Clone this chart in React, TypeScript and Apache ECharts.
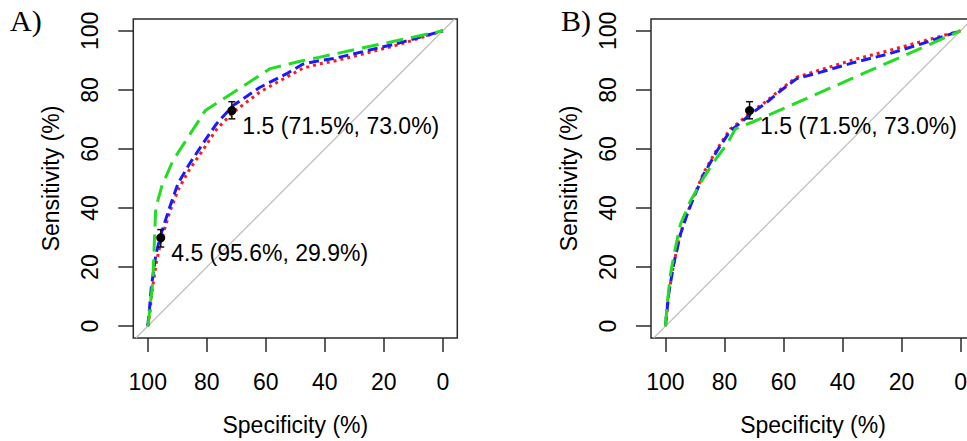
import { useEffect, useRef } from "react";
import * as echarts from "echarts";

const TICKS = [0, 20, 40, 60, 80, 100];
const PANEL_LABELS = ["A)", "B)"];
const X_NAME = "Specificity (%)";
const Y_NAME = "Sensitivity (%)";

const DIAG_SPEC = [104, -4];
const DIAG_SENS = [-4, 104];

// Panel A
const A_RED_SPEC = [100, 99.2, 98.8, 97.2, 95.5, 92.6, 89.8, 85.9, 81.4, 76.8, 71.2, 62, 53, 47.5, 41.8, 37, 26, 14.7, 0];
const A_RED_SENS = [0, 5, 10, 21, 29, 38.5, 46, 53, 59.5, 66.5, 72.3, 79.3, 84.3, 87.3, 88.8, 89.7, 92.4, 95.4, 100];
const A_BLUE_SPEC = [100, 99.4, 98.8, 97.2, 95.5, 92.6, 89.8, 85.9, 81.4, 76.8, 71.2, 62.1, 53.1, 47.5, 41.8, 37, 26, 14.7, 0];
const A_BLUE_SENS = [0, 6, 13.2, 24.5, 31.2, 40.2, 48.2, 54.9, 61.7, 68.4, 74.6, 80.8, 85.4, 88.7, 89.9, 90.6, 93.2, 95.9, 100];
const A_GREEN_SPEC = [100, 99.7, 98.3, 97.3, 95.2, 91.5, 80.5, 58.5, 48, 42, 30, 15, 0];
const A_GREEN_SENS = [0, 2, 15, 40, 47.5, 56, 73, 87.2, 89.8, 91, 93.6, 96.8, 100];
const A_POINT_SPEC = [71.5, 95.6];
const A_POINT_SENS = [73.0, 29.9];
const A_POINT_LO = [70.2, 26.8];
const A_POINT_HI = [76.0, 32.7];
const A_POINT_TEXT = ["1.5 (71.5%, 73.0%)", "4.5 (95.6%, 29.9%)"];

// Panel B
const B_RED_SPEC = [100, 99.5, 98.9, 97.2, 94.9, 92.6, 90.4, 87, 82.5, 78, 75, 71.2, 66, 61, 55.5, 47.4, 36, 24.7, 13.5, 0];
const B_RED_SENS = [0, 5, 11, 21.1, 31.5, 38.3, 44, 52, 60, 66.8, 69, 72.3, 76, 80.2, 84.3, 86.8, 90.3, 93.2, 96.3, 100];
const B_BLUE_SPEC = [100, 99.5, 98.9, 97.2, 94.9, 92.6, 90.4, 87, 82.5, 78, 75, 71.2, 66, 61, 55.5, 47.4, 36, 24.7, 13.5, 0];
const B_BLUE_SENS = [0, 5, 11, 21.1, 31.2, 38, 43.6, 51.5, 59.4, 66.2, 68.5, 71.8, 75.5, 79.7, 83.8, 86, 89.3, 92.1, 95.5, 100];
const B_GREEN_SPEC = [100, 99.4, 98.3, 96.6, 94.9, 91.5, 87, 82.5, 79.1, 76.3, 70, 0];
const B_GREEN_SENS = [0, 7.6, 17.7, 26.7, 34.6, 42.5, 50.4, 57.2, 61.7, 66.8, 69.3, 100];
const B_POINT_SPEC = [71.5];
const B_POINT_SENS = [73.0];
const B_POINT_LO = [70.2];
const B_POINT_HI = [76.0];
const B_POINT_TEXT = ["1.5 (71.5%, 73.0%)"];

const FONT = "'Liberation Sans', Arial, Helvetica, sans-serif";
const SERIF = "'Liberation Serif', 'Times New Roman', serif";
const AXIS_COLOR = "#2a2a2a";
const TEXT_COLOR = "#000";
const FS = 23;

const pairs = (a: number[], b: number[]) => a.map((v, i) => [v, b[i]]);

function panelSeries(
  idx: number,
  red: number[][],
  blue: number[][],
  green: number[][],
  ptSpec: number[],
  ptSens: number[],
  lo: number[],
  hi: number[],
  texts: string[]
): any[] {
  const base = { xAxisIndex: idx, yAxisIndex: idx };
  const line = (data: number[][], color: string, dash: number[], z: number) => ({
    ...base,
    type: "line",
    data,
    symbol: "none",
    showSymbol: false,
    silent: true,
    z,
    lineStyle: { color, width: 3, type: dash, cap: "butt" },
  });
  return [
    {
      ...base,
      type: "line",
      data: pairs(DIAG_SPEC, DIAG_SENS),
      symbol: "none",
      silent: true,
      z: 1,
      lineStyle: { color: "#bebebe", width: 1.2 },
    },
    line(red, "#ff1a1a", [3, 4], 2),
    line(blue, "#1a1aff", [10, 5], 3),
    line(green, "#22dd22", [17, 8], 4),
    {
      ...base,
      type: "custom",
      z: 5,
      silent: true,
      data: ptSpec.map((s, i) => [s, lo[i], hi[i]]),
      encode: { x: 0, y: [1, 2] },
      renderItem: (_p: any, api: any) => {
        const x = api.value(0);
        const a = api.coord([x, api.value(1)]);
        const b = api.coord([x, api.value(2)]);
        const w = 3.5;
        const st = { stroke: "#111", lineWidth: 1.5 };
        return {
          type: "group",
          children: [
            { type: "line", shape: { x1: a[0], y1: a[1], x2: b[0], y2: b[1] }, style: st },
            { type: "line", shape: { x1: a[0] - w, y1: a[1], x2: a[0] + w, y2: a[1] }, style: st },
            { type: "line", shape: { x1: b[0] - w, y1: b[1], x2: b[0] + w, y2: b[1] }, style: st },
          ],
        };
      },
    },
    {
      ...base,
      type: "scatter",
      z: 6,
      silent: true,
      symbol: "circle",
      symbolSize: 9,
      itemStyle: { color: "#000", opacity: 1 },
      data: ptSpec.map((s, i) => ({
        value: [s, ptSens[i]],
        label: {
          show: true,
          formatter: texts[i],
          position: "right",
          distance: 0,
          offset: [6, 15],
          fontSize: FS,
          fontFamily: FONT,
          color: TEXT_COLOR,
          opacity: 1,
        },
      })),
    },
  ];
}

function xAxis(idx: number) {
  return {
    gridIndex: idx,
    type: "value",
    min: -4.9,
    max: 104.9,
    inverse: true,
    axisLine: { show: false, onZero: false },
    splitLine: { show: false },
    axisTick: {
      show: true,
      length: 14,
      customValues: TICKS,
      lineStyle: { color: AXIS_COLOR, width: 1.5 },
    },
    axisLabel: {
      show: true,
      customValues: TICKS,
      margin: 32,
      fontSize: FS,
      fontFamily: FONT,
      color: TEXT_COLOR,
    },
    name: X_NAME,
    nameLocation: "middle",
    nameGap: 75,
    nameTextStyle: { fontSize: FS, fontFamily: FONT, color: TEXT_COLOR },
  };
}

function yAxis(idx: number) {
  return {
    gridIndex: idx,
    type: "value",
    position: "left",
    min: -4,
    max: 104,
    axisLine: { show: false, onZero: false },
    splitLine: { show: false },
    axisTick: {
      show: true,
      length: 15,
      customValues: TICKS,
      lineStyle: { color: AXIS_COLOR, width: 1.5 },
    },
    axisLabel: {
      show: true,
      customValues: TICKS,
      rotate: 90,
      margin: 32,
      fontSize: FS,
      fontFamily: FONT,
      color: TEXT_COLOR,
    },
    name: Y_NAME,
    nameLocation: "middle",
    nameGap: 71,
    nameTextStyle: { fontSize: FS, fontFamily: FONT, color: TEXT_COLOR },
  };
}

export default function App() {
  const ref = useRef<HTMLDivElement>(null);
  useEffect(() => {
    if (!ref.current) return;
    const chart = echarts.init(ref.current, undefined, { renderer: "svg" });
    const gridBase = { show: true, borderColor: AXIS_COLOR, borderWidth: 1.5, backgroundColor: "transparent", top: 19, height: 319, width: 324 };
    chart.setOption({
      animation: false,
      backgroundColor: "#fff",
      grid: [
        { ...gridBase, left: 133.3 },
        { ...gridBase, left: 651 },
      ],
      xAxis: [xAxis(0), xAxis(1)],
      yAxis: [yAxis(0), yAxis(1)],
      graphic: [
        { type: "text", left: 10, top: 5, style: { text: PANEL_LABELS[0], font: `30px ${SERIF}`, fill: "#000" } },
        { type: "text", left: 561, top: 5, style: { text: PANEL_LABELS[1], font: `30px ${SERIF}`, fill: "#000" } },
      ],
      series: [
        ...panelSeries(
          0,
          pairs(A_RED_SPEC, A_RED_SENS),
          pairs(A_BLUE_SPEC, A_BLUE_SENS),
          pairs(A_GREEN_SPEC, A_GREEN_SENS),
          A_POINT_SPEC,
          A_POINT_SENS,
          A_POINT_LO,
          A_POINT_HI,
          A_POINT_TEXT
        ),
        ...panelSeries(
          1,
          pairs(B_RED_SPEC, B_RED_SENS),
          pairs(B_BLUE_SPEC, B_BLUE_SENS),
          pairs(B_GREEN_SPEC, B_GREEN_SENS),
          B_POINT_SPEC,
          B_POINT_SENS,
          B_POINT_LO,
          B_POINT_HI,
          B_POINT_TEXT
        ),
      ],
    });
    return () => chart.dispose();
  }, []);
  return (
    <div style={{ position: "fixed", left: 0, top: 0, width: 967, height: 441, overflow: "hidden", background: "#fff" }}>
      <div ref={ref} style={{ width: 980, height: 441 }} />
    </div>
  );
}
